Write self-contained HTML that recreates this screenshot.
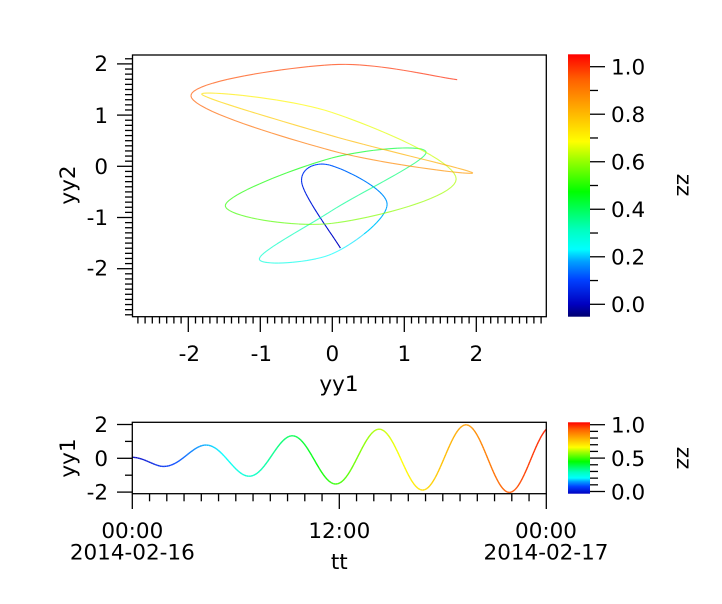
<!DOCTYPE html>
<html><head><meta charset="utf-8"><style>
html,body{margin:0;padding:0;background:#fff;width:722px;height:604px;overflow:hidden}
svg text{font-family:"DejaVu Sans","Liberation Sans",sans-serif;font-size:21.5px;fill:#000}
</style></head><body>
<svg id="s" width="722" height="604" viewBox="0 0 722 604" xmlns="http://www.w3.org/2000/svg">
<defs>
<linearGradient id="cb" x1="0" y1="1" x2="0" y2="0">
<stop offset="0" stop-color="#000070"/>
<stop offset="0.048" stop-color="#0000c0"/>
<stop offset="0.14" stop-color="#0040ff"/>
<stop offset="0.21" stop-color="#00a0ff"/>
<stop offset="0.257" stop-color="#00ffff"/>
<stop offset="0.33" stop-color="#00ffc0"/>
<stop offset="0.476" stop-color="#00ff00"/>
<stop offset="0.6" stop-color="#a0ff00"/>
<stop offset="0.667" stop-color="#ffff00"/>
<stop offset="0.81" stop-color="#ffa000"/>
<stop offset="0.905" stop-color="#ff6000"/>
<stop offset="1" stop-color="#ff0000"/>
</linearGradient>
<linearGradient id="cb2" x1="0" y1="1" x2="0" y2="0">
<stop offset="0" stop-color="#0000c0"/>
<stop offset="0.1" stop-color="#0040ff"/>
<stop offset="0.17" stop-color="#00a0ff"/>
<stop offset="0.22" stop-color="#00ffff"/>
<stop offset="0.3" stop-color="#00ffc0"/>
<stop offset="0.45" stop-color="#00ff00"/>
<stop offset="0.58" stop-color="#a0ff00"/>
<stop offset="0.65" stop-color="#ffff00"/>
<stop offset="0.8" stop-color="#ffa000"/>
<stop offset="0.9" stop-color="#ff6000"/>
<stop offset="1" stop-color="#ff0000"/>
</linearGradient>
</defs>
<g id="g"></g>
<rect x="132.5" y="55" width="413.8" height="261.7" fill="none" stroke="#000" stroke-width="1.3"/>
<text x="108" y="71" text-anchor="end">2</text>
<text x="108" y="123" text-anchor="end">1</text>
<text x="108" y="174" text-anchor="end">0</text>
<text x="108" y="225" text-anchor="end">-1</text>
<text x="108" y="275.5" text-anchor="end">-2</text>
<text transform="translate(75,185) rotate(-90)" text-anchor="middle">yy2</text>
<text x="189.3" y="361" text-anchor="middle">-2</text>
<text x="261.3" y="361" text-anchor="middle">-1</text>
<text x="332.3" y="361" text-anchor="middle">0</text>
<text x="404.3" y="361" text-anchor="middle">1</text>
<text x="476.3" y="361" text-anchor="middle">2</text>
<text x="339" y="391" text-anchor="middle">yy1</text>
<rect x="568" y="54.3" width="22" height="262.4" fill="url(#cb)"/>
<text x="611" y="74.5">1.0</text>
<text x="611" y="122">0.8</text>
<text x="611" y="169.5">0.6</text>
<text x="611" y="217">0.4</text>
<text x="611" y="264.5">0.2</text>
<text x="611" y="312">0.0</text>
<text transform="translate(677,185) rotate(90)" text-anchor="middle">zz</text>
<rect x="132.3" y="422.3" width="414" height="71.4" fill="none" stroke="#000" stroke-width="1.3"/>
<text x="108" y="432" text-anchor="end">2</text>
<text x="108" y="466" text-anchor="end">0</text>
<text x="108" y="499.5" text-anchor="end">-2</text>
<text transform="translate(75,458) rotate(-90)" text-anchor="middle">yy1</text>
<text x="132.3" y="538" text-anchor="middle">00:00</text>
<text x="132.3" y="559.5" text-anchor="middle">2014-02-16</text>
<text x="339.3" y="538" text-anchor="middle">12:00</text>
<text x="546" y="538" text-anchor="middle">00:00</text>
<text x="546" y="559.5" text-anchor="middle">2014-02-17</text>
<text x="339.3" y="569" text-anchor="middle">tt</text>
<rect x="568" y="422.3" width="22" height="71.4" fill="url(#cb2)"/>
<text x="611" y="432.5">1.0</text>
<text x="611" y="466">0.5</text>
<text x="611" y="499.5">0.0</text>
<text transform="translate(677,458) rotate(90)" text-anchor="middle">zz</text>
</svg>
<script>
var g=document.getElementById('g');var NS='http://www.w3.org/2000/svg';
function ln(x1,y1,x2,y2,c,w,o){var e=document.createElementNS(NS,'line');e.setAttribute('x1',x1);e.setAttribute('y1',y1);e.setAttribute('x2',x2);e.setAttribute('y2',y2);e.setAttribute('stroke',c||'#000');e.setAttribute('stroke-width',w||1.3);if(o)e.setAttribute('stroke-opacity',o);g.appendChild(e);}
var stops=[[0,[0,0,192]],[0.1,[0,64,255]],[0.17,[0,160,255]],[0.22,[0,255,255]],[0.3,[0,255,192]],[0.45,[0,255,0]],[0.58,[160,255,0]],[0.65,[255,255,0]],[0.8,[255,160,0]],[0.9,[255,96,0]],[1,[255,32,0]]];
function col(t){for(var i=1;i<stops.length;i++){if(t<=stops[i][0]){var a=stops[i-1],b=stops[i],f=(t-a[0])/(b[0]-a[0]);var c=a[1].map(function(v,k){return Math.round(v+(b[1][k]-v)*f)});return 'rgb('+c.join(',')+')';}}return 'rgb(255,32,0)';}
var x0=332.3,sx=72,y0=166.3,sy=51.2;
for(var i=-28;i<=29;i++){var x=x0+i*sx/10;if(x<132||x>547)continue;var maj=(i%10===0);ln(x,316.7,x,maj?332:323.5);}
for(var i=-29;i<=21;i++){var y=y0-i*sy/10;if(y<54||y>317)continue;var maj=(i%10===0);ln(maj?117:125,y,132.5,y);}
for(var i=0;i<=10;i++){var y=304.3-i*23.76;ln(590,y,(i%2===0)?605:598,y);}
for(var i=0;i<=10;i++){var y=491.5-i*6.68;ln(590,y,(i%5===0)?605:598,y);}
for(var i=0;i<=24;i++){var x=132.3+i*414/24;var maj=(i%12===0);ln(x,493.7,x,maj?509:501.3);}
for(var i=-2;i<=2;i++){var y=458.3-i*16.9;ln((i%2===0)?117:125,y,132.3,y);}
var P=[[0,628,592],[0.069,512,395],[0.12,595,343],[0.171,768,460],[0.224,602,610],[0.277,385,625],[0.33,602,480],[0.384,885,305],[0.437,602,322],[0.49,283,465],[0.542,602,518],[0.594,975,385],[0.647,602,185],[0.701,212,130],[0.753,602,255],[0.805,1025,367],[0.858,602,300],[0.911,180,135],[0.96,602,42],[1,978,87]];
function mp(zx,zy){return [132.5+(zx-5)*0.3337,55+(zy-13)*0.3334];}
var pts=[];
for(var i=0;i<P.length-1;i++){var p0=P[Math.max(0,i-1)],p1=P[i],p2=P[i+1],p3=P[Math.min(P.length-1,i+2)];
 for(var s=0;s<20;s++){var u=s/20,u2=u*u,u3=u2*u;
  var cr=function(k){return 0.5*((2*p1[k])+(-p0[k]+p2[k])*u+(2*p0[k]-5*p1[k]+4*p2[k]-p3[k])*u2+(-p0[k]+3*p1[k]-3*p2[k]+p3[k])*u3);};
  pts.push([p1[0]+(p2[0]-p1[0])*u,cr(1),cr(2)]);}}
pts.push(P[P.length-1]);
for(var i=0;i<pts.length-1;i++){var a=mp(pts[i][1],pts[i][2]),b=mp(pts[i+1][1],pts[i+1][2]);var t=pts[i][0];ln(a[0],a[1],b[0],b[1],col(t),1.1,t<0.2?1:0.7);}
var A=[[0,0.13],[0.069,0.47],[0.171,0.77],[0.277,1.05],[0.384,1.33],[0.49,1.52],[0.594,1.72],[0.701,1.88],[0.805,1.98],[0.911,2.02],[1,1.95]];
function amp(t){for(var i=1;i<A.length;i++){if(t<=A[i][0]){var f=(t-A[i-1][0])/(A[i][0]-A[i-1][0]);return A[i-1][1]+(A[i][1]-A[i-1][1])*f;}}return 1.95;}
var prev=null;for(var i=0;i<=600;i++){var t=i/600;var v=-amp(t)*Math.cos(2*Math.PI*(t-0.069)/0.2105);var p=[132.3+t*414,458.3-v*16.9];if(prev)ln(prev[0],prev[1],p[0],p[1],col(t),1.4);prev=p;}
</script>
</body></html>
